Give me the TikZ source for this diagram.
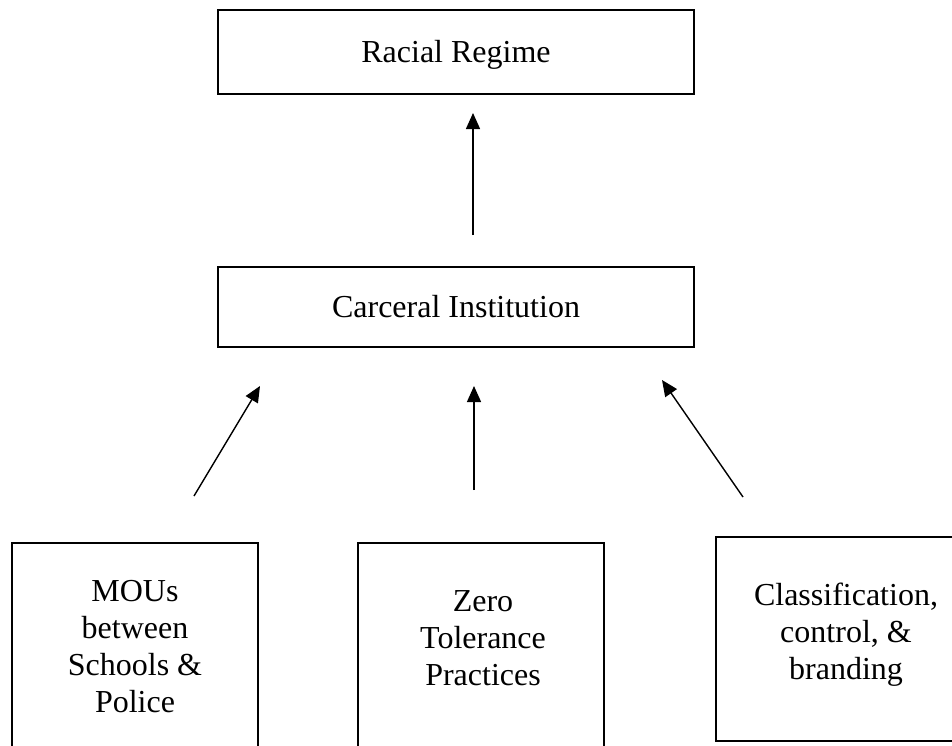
\documentclass[tikz,border=0pt]{standalone}
\usepackage{fontspec}
\setmainfont{Liberation Serif}
\usetikzlibrary{arrows.meta,calc}
\begin{document}
\begin{tikzpicture}[x=1pt,y=-1pt,
  boxshape/.style={draw=black,line width=2.4pt,rectangle,inner sep=0pt,fill=white},
  lbl/.style={inner sep=0pt,align=center,font=\fontsize{32}{37}\selectfont},
  arr/.style={line width=1.4pt,-{Triangle[length=16pt,width=14pt]}}]
\useasboundingbox (0,0) rectangle (952,745);
\clip (0,0) rectangle (952,745);
\fill[white] (0,0) rectangle (952,745);
% boxes
\node[boxshape,minimum width=476pt,minimum height=84pt] (rr) at (456,52) {};
\node[boxshape,minimum width=476pt,minimum height=80pt] (ci) at (456,307) {};
\node[boxshape,minimum width=246pt,minimum height=240pt] (mou) at (135,663) {};
\node[boxshape,minimum width=246pt,minimum height=240pt] (zt) at (481,663) {};
\node[boxshape,minimum width=260pt,minimum height=204pt] (cl) at (846,639) {};
% labels
\node[lbl,anchor=base] (rrt) at (456,62) {Racial Regime};
\node[lbl,anchor=base] (cit) at (456,317) {Carceral Institution};
\node[lbl,anchor=north] (mout) at (135,580.5) {MOUs\\between\\Schools \&\\Police};
\node[lbl,anchor=north] (ztt) at (483,590.5) {Zero\\Tolerance\\Practices};
\node[lbl,anchor=north] (clt) at (846,583) {Classification,\\control, \&\\branding};
% arrow end points
\coordinate (a1s) at (473,235); \coordinate (a1e) at (473,113);
\coordinate (a2s) at (194,496); \coordinate (a2e) at (260,386);
\coordinate (a3s) at (474,490); \coordinate (a3e) at (474,386);
\coordinate (a4s) at (743,497); \coordinate (a4e) at (662,380);
\draw[arr] (a1s) -- (a1e);
\draw[arr] (a2s) -- (a2e);
\draw[arr] (a3s) -- (a3e);
\draw[arr] (a4s) -- (a4e);
\end{tikzpicture}
\end{document}
